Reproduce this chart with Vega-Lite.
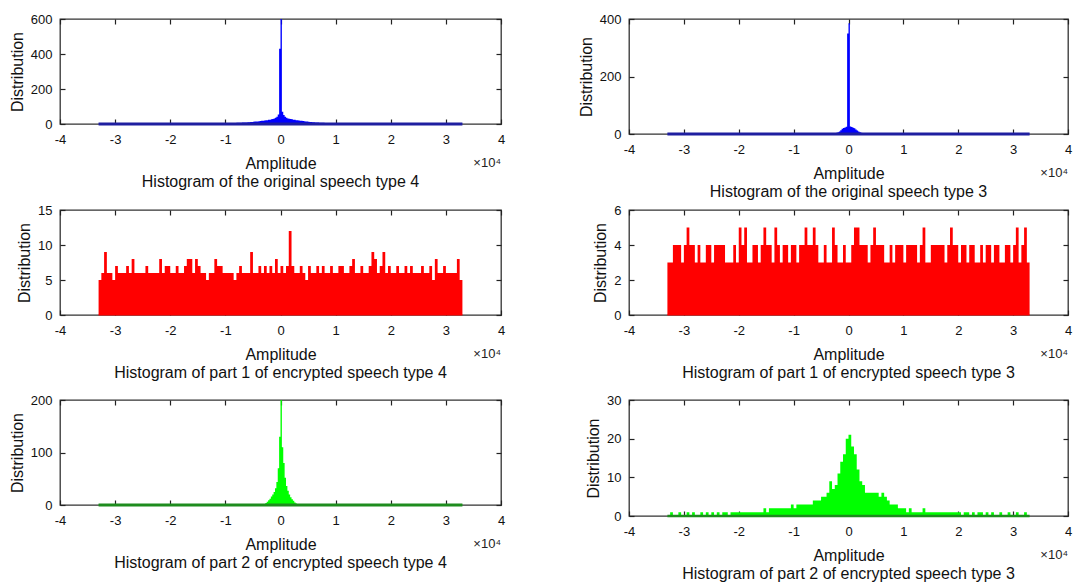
{
"$schema": "https://vega.github.io/schema/vega-lite/v6.json",
"background": "white",
"padding": {"left": 8, "top": 12, "right": 0, "bottom": 0},
"config": {
  "view": {"stroke": "#333333", "strokeWidth": 1.3},
  "font": "Liberation Sans, Arial, sans-serif",
  "axis": {"domain": false, "grid": false, "ticks": true, "tickColor": "#222222", "tickSize": -5, "tickWidth": 1.2,
    "labelFont": "Liberation Sans, Arial, sans-serif", "labelFontSize": 13, "labelColor": "#111111", "labelFlush": false, "labelOverlap": false,
    "titleFont": "Liberation Sans, Arial, sans-serif", "titleFontSize": 16, "titleFontWeight": "normal", "titleColor": "#111111"},
  "axisX": {"labelPadding": 14, "titlePadding": 9},
  "axisY": {"labelPadding": 13, "titlePadding": 5},
  "title": {"orient": "bottom", "anchor": "middle", "frame": "group", "font": "Liberation Sans, Arial, sans-serif", "fontSize": 16, "fontWeight": "normal", "color": "#111111", "offset": 3}
},
"datasets": {
  "base": [{"a": -33000, "b": 33000, "z": 0}],
  "p1": [{"x":-33000,"n":2},{"x":-32000,"n":1},{"x":-31000,"n":2},{"x":-30000,"n":1},{"x":-29000,"n":2},{"x":-28000,"n":2},{"x":-27000,"n":1},{"x":-26000,"n":2},{"x":-25000,"n":2},{"x":-24000,"n":2},{"x":-23000,"n":2},{"x":-22000,"n":2},{"x":-21000,"n":3},{"x":-20000,"n":2},{"x":-19000,"n":3},{"x":-18000,"n":3},{"x":-17000,"n":3},{"x":-16000,"n":3},{"x":-15000,"n":3},{"x":-14000,"n":4},{"x":-13000,"n":4},{"x":-12000,"n":4},{"x":-11000,"n":5},{"x":-10000,"n":5},{"x":-9000,"n":6},{"x":-8000,"n":7},
    {"x":-7000,"n":8},{"x":-6750,"n":8},{"x":-6500,"n":9},{"x":-6250,"n":9},{"x":-6000,"n":10},{"x":-5750,"n":10},{"x":-5500,"n":11},{"x":-5250,"n":12},{"x":-5000,"n":13},{"x":-4750,"n":14},{"x":-4500,"n":14},{"x":-4250,"n":15},{"x":-4000,"n":16},{"x":-3750,"n":17},{"x":-3500,"n":18},{"x":-3250,"n":19},{"x":-3000,"n":20},{"x":-2750,"n":21},{"x":-2500,"n":22},{"x":-2250,"n":24},{"x":-2000,"n":25},{"x":-1750,"n":27},{"x":-1500,"n":29},{"x":-1250,"n":32},{"x":-1000,"n":36},{"x":-750,"n":42},{"x":-500,"n":55},{"x":-250,"n":430},{"x":0,"n":600},{"x":250,"n":70},{"x":500,"n":52},{"x":750,"n":42},{"x":1000,"n":36},{"x":1250,"n":32},{"x":1500,"n":30},{"x":1750,"n":28},{"x":2000,"n":27},{"x":2250,"n":25},{"x":2500,"n":24},{"x":2750,"n":22},{"x":3000,"n":21},{"x":3250,"n":20},{"x":3500,"n":19},{"x":3750,"n":18},{"x":4000,"n":17},{"x":4250,"n":16},{"x":4500,"n":15},{"x":4750,"n":14},{"x":5000,"n":13},{"x":5250,"n":12},{"x":5500,"n":11},{"x":5750,"n":10},{"x":6000,"n":10},{"x":6250,"n":9},{"x":6500,"n":9},{"x":6750,"n":8},
    {"x":7000,"n":7},{"x":8000,"n":6},{"x":9000,"n":6},{"x":10000,"n":5},{"x":11000,"n":5},{"x":12000,"n":4},{"x":13000,"n":4},{"x":14000,"n":4},{"x":15000,"n":3},{"x":16000,"n":3},{"x":17000,"n":3},{"x":18000,"n":3},{"x":19000,"n":3},{"x":20000,"n":2},{"x":21000,"n":3},{"x":22000,"n":2},{"x":23000,"n":2},{"x":24000,"n":2},{"x":25000,"n":2},{"x":26000,"n":2},{"x":27000,"n":1},{"x":28000,"n":2},{"x":29000,"n":2},{"x":30000,"n":1},{"x":31000,"n":2},{"x":32000,"n":1},{"x":33000,"n":0}],
  "p2": [{"x":-33000,"n":1},{"x":-32000,"n":1},{"x":-31000,"n":1},{"x":-30000,"n":1},{"x":-29000,"n":1},{"x":-28000,"n":1},{"x":-27000,"n":1},{"x":-26000,"n":1},{"x":-25000,"n":1},{"x":-24000,"n":1},{"x":-23000,"n":1},{"x":-22000,"n":1},{"x":-21000,"n":1},{"x":-20000,"n":1},{"x":-19000,"n":1},{"x":-18000,"n":1},{"x":-17000,"n":1},{"x":-16000,"n":1},{"x":-15000,"n":1},{"x":-14000,"n":1},{"x":-13000,"n":1},{"x":-12000,"n":1},{"x":-11000,"n":1},{"x":-10000,"n":1},{"x":-9000,"n":1},{"x":-8000,"n":1},{"x":-7000,"n":1},{"x":-6000,"n":1},{"x":-5000,"n":1},{"x":-4000,"n":1},
    {"x":-3000,"n":2},{"x":-2750,"n":3},{"x":-2500,"n":3},{"x":-2250,"n":4},{"x":-2000,"n":6},{"x":-1750,"n":9},{"x":-1500,"n":13},{"x":-1250,"n":18},{"x":-1000,"n":21},{"x":-750,"n":23},{"x":-500,"n":25},{"x":-250,"n":350},{"x":0,"n":385},{"x":250,"n":26},{"x":500,"n":24},{"x":750,"n":22},{"x":1000,"n":20},{"x":1250,"n":16},{"x":1500,"n":12},{"x":1750,"n":9},{"x":2000,"n":6},{"x":2250,"n":4},{"x":2500,"n":3},{"x":2750,"n":2},
    {"x":3000,"n":1},{"x":4000,"n":1},{"x":5000,"n":1},{"x":6000,"n":1},{"x":7000,"n":1},{"x":8000,"n":1},{"x":9000,"n":1},{"x":10000,"n":1},{"x":11000,"n":1},{"x":12000,"n":1},{"x":13000,"n":1},{"x":14000,"n":1},{"x":15000,"n":1},{"x":16000,"n":1},{"x":17000,"n":1},{"x":18000,"n":1},{"x":19000,"n":1},{"x":20000,"n":1},{"x":21000,"n":1},{"x":22000,"n":1},{"x":23000,"n":1},{"x":24000,"n":1},{"x":25000,"n":1},{"x":26000,"n":1},{"x":27000,"n":1},{"x":28000,"n":1},{"x":29000,"n":1},{"x":30000,"n":1},{"x":31000,"n":1},{"x":32000,"n":1},{"x":33000,"n":0}],
  "p3": [{"x":-33000,"n":5},{"x":-32500,"n":6},{"x":-32000,"n":9},{"x":-31500,"n":6},{"x":-31000,"n":6},{"x":-30500,"n":5},{"x":-30000,"n":7},{"x":-29500,"n":6},{"x":-29000,"n":6},{"x":-28500,"n":6},
    {"x":-28000,"n":7},{"x":-27500,"n":6},{"x":-27000,"n":8},{"x":-26500,"n":6},{"x":-26000,"n":6},{"x":-25500,"n":6},{"x":-25000,"n":6},{"x":-24500,"n":7},{"x":-24000,"n":6},{"x":-23500,"n":6},
    {"x":-23000,"n":6},{"x":-22500,"n":6},{"x":-22000,"n":8},{"x":-21500,"n":6},{"x":-21000,"n":7},{"x":-20500,"n":7},{"x":-20000,"n":6},{"x":-19500,"n":6},{"x":-19000,"n":7},{"x":-18500,"n":6},
    {"x":-18000,"n":6},{"x":-17500,"n":7},{"x":-17000,"n":8},{"x":-16500,"n":8},{"x":-16000,"n":6},{"x":-15500,"n":8},{"x":-15000,"n":7},{"x":-14500,"n":6},{"x":-14000,"n":6},{"x":-13500,"n":5},
    {"x":-13000,"n":6},{"x":-12500,"n":6},{"x":-12000,"n":8},{"x":-11500,"n":7},{"x":-11000,"n":7},{"x":-10500,"n":6},{"x":-10000,"n":6},{"x":-9500,"n":6},{"x":-9000,"n":6},{"x":-8500,"n":5},
    {"x":-8000,"n":6},{"x":-7500,"n":7},{"x":-7000,"n":6},{"x":-6500,"n":6},{"x":-6000,"n":6},{"x":-5500,"n":9},{"x":-5000,"n":6},{"x":-4500,"n":6},{"x":-4000,"n":7},{"x":-3500,"n":6},
    {"x":-3000,"n":7},{"x":-2500,"n":6},{"x":-2000,"n":7},{"x":-1500,"n":6},{"x":-1000,"n":8},{"x":-500,"n":6},{"x":0,"n":7},{"x":500,"n":6},{"x":1000,"n":7},{"x":1500,"n":12},
    {"x":2000,"n":7},{"x":2500,"n":6},{"x":3000,"n":6},{"x":3500,"n":7},{"x":4000,"n":6},{"x":4500,"n":5},{"x":5000,"n":7},{"x":5500,"n":6},{"x":6000,"n":6},{"x":6500,"n":7},
    {"x":7000,"n":6},{"x":7500,"n":7},{"x":8000,"n":6},{"x":8500,"n":6},{"x":9000,"n":7},{"x":9500,"n":6},{"x":10000,"n":6},{"x":10500,"n":7},{"x":11000,"n":7},{"x":11500,"n":6},
    {"x":12000,"n":6},{"x":12500,"n":7},{"x":13000,"n":8},{"x":13500,"n":6},{"x":14000,"n":6},{"x":14500,"n":7},{"x":15000,"n":6},{"x":15500,"n":6},{"x":16000,"n":7},{"x":16500,"n":9},
    {"x":17000,"n":8},{"x":17500,"n":6},{"x":18000,"n":7},{"x":18500,"n":9},{"x":19000,"n":6},{"x":19500,"n":7},{"x":20000,"n":6},{"x":20500,"n":6},{"x":21000,"n":7},{"x":21500,"n":6},
    {"x":22000,"n":6},{"x":22500,"n":7},{"x":23000,"n":6},{"x":23500,"n":7},{"x":24000,"n":6},{"x":24500,"n":6},{"x":25000,"n":6},{"x":25500,"n":7},{"x":26000,"n":6},{"x":26500,"n":6},
    {"x":27000,"n":7},{"x":27500,"n":5},{"x":28000,"n":8},{"x":28500,"n":6},{"x":29000,"n":6},{"x":29500,"n":7},{"x":30000,"n":6},{"x":30500,"n":6},{"x":31000,"n":6},{"x":31500,"n":6},
    {"x":32000,"n":8},{"x":32500,"n":5},{"x":33000,"n":0}],
  "p4": [{"x":-33000,"n":3},{"x":-32500,"n":3},{"x":-32000,"n":4},{"x":-31500,"n":4},{"x":-31000,"n":4},{"x":-30500,"n":3},{"x":-30000,"n":4},{"x":-29500,"n":5},{"x":-29000,"n":4},{"x":-28500,"n":4},
    {"x":-28000,"n":3},{"x":-27500,"n":4},{"x":-27000,"n":3},{"x":-26500,"n":3},{"x":-26000,"n":4},{"x":-25500,"n":4},{"x":-25000,"n":3},{"x":-24500,"n":4},{"x":-24000,"n":4},{"x":-23500,"n":4},
    {"x":-23000,"n":4},{"x":-22500,"n":3},{"x":-22000,"n":3},{"x":-21500,"n":3},{"x":-21000,"n":4},{"x":-20500,"n":3},{"x":-20000,"n":5},{"x":-19500,"n":4},{"x":-19000,"n":5},{"x":-18500,"n":3},
    {"x":-18000,"n":3},{"x":-17500,"n":4},{"x":-17000,"n":4},{"x":-16500,"n":3},{"x":-16000,"n":4},{"x":-15500,"n":5},{"x":-15000,"n":4},{"x":-14500,"n":4},{"x":-14000,"n":3},{"x":-13500,"n":5},
    {"x":-13000,"n":4},{"x":-12500,"n":3},{"x":-12000,"n":4},{"x":-11500,"n":4},{"x":-11000,"n":3},{"x":-10500,"n":4},{"x":-10000,"n":4},{"x":-9500,"n":3},{"x":-9000,"n":4},{"x":-8500,"n":4},
    {"x":-8000,"n":5},{"x":-7500,"n":4},{"x":-7000,"n":4},{"x":-6500,"n":5},{"x":-6000,"n":4},{"x":-5500,"n":3},{"x":-5000,"n":3},{"x":-4500,"n":4},{"x":-4000,"n":3},{"x":-3500,"n":3},
    {"x":-3000,"n":5},{"x":-2500,"n":4},{"x":-2000,"n":3},{"x":-1500,"n":3},{"x":-1000,"n":4},{"x":-500,"n":3},{"x":0,"n":3},{"x":500,"n":4},{"x":1000,"n":5},{"x":1500,"n":5},
    {"x":2000,"n":4},{"x":2500,"n":4},{"x":3000,"n":4},{"x":3500,"n":3},{"x":4000,"n":4},{"x":4500,"n":5},{"x":5000,"n":4},{"x":5500,"n":4},{"x":6000,"n":4},{"x":6500,"n":3},
    {"x":7000,"n":3},{"x":7500,"n":4},{"x":8000,"n":3},{"x":8500,"n":4},{"x":9000,"n":4},{"x":9500,"n":4},{"x":10000,"n":3},{"x":10500,"n":4},{"x":11000,"n":4},{"x":11500,"n":4},
    {"x":12000,"n":4},{"x":12500,"n":3},{"x":13000,"n":4},{"x":13500,"n":5},{"x":14000,"n":3},{"x":14500,"n":3},{"x":15000,"n":4},{"x":15500,"n":4},{"x":16000,"n":4},{"x":16500,"n":4},
    {"x":17000,"n":4},{"x":17500,"n":3},{"x":18000,"n":4},{"x":18500,"n":5},{"x":19000,"n":4},{"x":19500,"n":4},{"x":20000,"n":3},{"x":20500,"n":4},{"x":21000,"n":4},{"x":21500,"n":3},
    {"x":22000,"n":4},{"x":22500,"n":4},{"x":23000,"n":3},{"x":23500,"n":3},{"x":24000,"n":4},{"x":24500,"n":3},{"x":25000,"n":4},{"x":25500,"n":4},{"x":26000,"n":3},{"x":26500,"n":4},
    {"x":27000,"n":4},{"x":27500,"n":3},{"x":28000,"n":3},{"x":28500,"n":4},{"x":29000,"n":4},{"x":29500,"n":3},{"x":30000,"n":4},{"x":30500,"n":5},{"x":31000,"n":3},{"x":31500,"n":4},
    {"x":32000,"n":5},{"x":32500,"n":3},{"x":33000,"n":0}],
  "p5": [{"x":-33000,"n":1},{"x":-32000,"n":1},{"x":-31000,"n":1},{"x":-30000,"n":1},{"x":-29000,"n":1},{"x":-28000,"n":1},{"x":-27000,"n":1},{"x":-26000,"n":1},{"x":-25000,"n":1},{"x":-24000,"n":1},{"x":-23000,"n":1},{"x":-22000,"n":1},{"x":-21000,"n":1},{"x":-20000,"n":1},{"x":-19000,"n":1},{"x":-18000,"n":1},{"x":-17000,"n":1},{"x":-16000,"n":1},{"x":-15000,"n":1},{"x":-14000,"n":1},{"x":-13000,"n":1},{"x":-12000,"n":1},{"x":-11000,"n":1},{"x":-10000,"n":1},{"x":-9000,"n":1},{"x":-8000,"n":1},{"x":-7000,"n":1},{"x":-6000,"n":1},{"x":-5000,"n":1},
    {"x":-4000,"n":1},{"x":-3750,"n":1},{"x":-3500,"n":1},{"x":-3250,"n":1},{"x":-3000,"n":2},{"x":-2750,"n":4},{"x":-2500,"n":6},{"x":-2250,"n":9},{"x":-2000,"n":12},{"x":-1750,"n":16},{"x":-1500,"n":20},{"x":-1250,"n":25},{"x":-1000,"n":32},{"x":-750,"n":44},{"x":-500,"n":70},{"x":-250,"n":130},{"x":0,"n":200},{"x":250,"n":110},{"x":500,"n":80},{"x":750,"n":52},{"x":1000,"n":36},{"x":1250,"n":27},{"x":1500,"n":20},{"x":1750,"n":15},{"x":2000,"n":11},{"x":2250,"n":8},{"x":2500,"n":5},{"x":2750,"n":3},{"x":3000,"n":2},{"x":3250,"n":1},{"x":3500,"n":1},{"x":3750,"n":1},
    {"x":4000,"n":1},{"x":5000,"n":1},{"x":6000,"n":1},{"x":7000,"n":1},{"x":8000,"n":1},{"x":9000,"n":1},{"x":10000,"n":1},{"x":11000,"n":1},{"x":12000,"n":1},{"x":13000,"n":1},{"x":14000,"n":1},{"x":15000,"n":1},{"x":16000,"n":1},{"x":17000,"n":1},{"x":18000,"n":1},{"x":19000,"n":1},{"x":20000,"n":1},{"x":21000,"n":1},{"x":22000,"n":1},{"x":23000,"n":1},{"x":24000,"n":1},{"x":25000,"n":1},{"x":26000,"n":1},{"x":27000,"n":1},{"x":28000,"n":1},{"x":29000,"n":1},{"x":30000,"n":1},{"x":31000,"n":1},{"x":32000,"n":1},{"x":33000,"n":0}],
  "p6": [{"x":-33000,"n":0},{"x":-32500,"n":1},{"x":-32000,"n":0},{"x":-31500,"n":0},{"x":-31000,"n":1},{"x":-30500,"n":0},{"x":-30000,"n":0},{"x":-29500,"n":1},{"x":-29000,"n":0},{"x":-28500,"n":1},
    {"x":-28000,"n":0},{"x":-27500,"n":0},{"x":-27000,"n":1},{"x":-26500,"n":0},{"x":-26000,"n":1},{"x":-25500,"n":0},
    {"x":-25000,"n":1},{"x":-24500,"n":0},{"x":-24000,"n":1},{"x":-23500,"n":0},{"x":-23000,"n":1},{"x":-22500,"n":1},{"x":-22000,"n":0},{"x":-21500,"n":1},{"x":-21000,"n":1},{"x":-20500,"n":1},
    {"x":-20000,"n":1},{"x":-19500,"n":1},{"x":-19000,"n":1},{"x":-18500,"n":1},{"x":-18000,"n":1},{"x":-17500,"n":1},{"x":-17000,"n":1},{"x":-16500,"n":1},{"x":-16000,"n":1},{"x":-15500,"n":2},
    {"x":-15000,"n":1},{"x":-14500,"n":2},{"x":-14000,"n":2},{"x":-13500,"n":2},{"x":-13000,"n":2},{"x":-12500,"n":2},{"x":-12000,"n":2},{"x":-11500,"n":2},{"x":-11000,"n":2},{"x":-10500,"n":3},
    {"x":-10000,"n":2},{"x":-9500,"n":3},{"x":-9000,"n":3},{"x":-8500,"n":3},{"x":-8000,"n":3},{"x":-7500,"n":3},{"x":-7000,"n":3},{"x":-6500,"n":4},{"x":-6000,"n":4},{"x":-5500,"n":4},
    {"x":-5000,"n":5},{"x":-4500,"n":5},{"x":-4000,"n":6},{"x":-3500,"n":9},{"x":-3000,"n":7},{"x":-2500,"n":8},{"x":-2000,"n":11},{"x":-1500,"n":14},{"x":-1000,"n":16},{"x":-500,"n":20},
    {"x":0,"n":21},{"x":500,"n":18},{"x":1000,"n":16},{"x":1500,"n":12},{"x":2000,"n":9},{"x":2500,"n":8},{"x":3000,"n":6},{"x":3500,"n":6},{"x":4000,"n":6},{"x":4500,"n":6},
    {"x":5000,"n":6},{"x":5500,"n":5},{"x":6000,"n":6},{"x":6500,"n":5},{"x":7000,"n":4},{"x":7500,"n":3},{"x":8000,"n":3},{"x":8500,"n":3},{"x":9000,"n":2},{"x":9500,"n":2},
    {"x":10000,"n":2},{"x":10500,"n":1},{"x":11000,"n":2},{"x":11500,"n":1},{"x":12000,"n":1},{"x":12500,"n":1},{"x":13000,"n":1},{"x":13500,"n":2},{"x":14000,"n":1},{"x":14500,"n":1},
    {"x":15000,"n":1},{"x":15500,"n":1},{"x":16000,"n":1},{"x":16500,"n":1},{"x":17000,"n":1},{"x":17500,"n":1},{"x":18000,"n":1},{"x":18500,"n":1},{"x":19000,"n":1},{"x":19500,"n":1},
    {"x":20000,"n":1},{"x":20500,"n":0},{"x":21000,"n":1},{"x":21500,"n":1},{"x":22000,"n":0},{"x":22500,"n":1},{"x":23000,"n":0},{"x":23500,"n":1},{"x":24000,"n":1},{"x":24500,"n":0},
    {"x":25000,"n":1},{"x":25500,"n":0},{"x":26000,"n":1},{"x":26500,"n":0},{"x":27000,"n":0},{"x":27500,"n":1},{"x":28000,"n":0},{"x":28500,"n":0},{"x":29000,"n":1},{"x":29500,"n":0},
    {"x":30000,"n":0},{"x":30500,"n":1},{"x":31000,"n":0},{"x":31500,"n":0},{"x":32000,"n":1},{"x":32500,"n":0},{"x":33000,"n":0}]
},
"columns": 2,
"spacing": {"row": 2, "column": 71},
"concat": [
  {"width": 441, "height": 105, "title": {"text": "Histogram of the original speech type 4"},
   "layer": [
    {"data": {"name": "p1"}, "mark": {"type": "area", "interpolate": "step-after", "color": "#0000ff"},
     "encoding": {"x": {"field": "x", "type": "quantitative", "scale": {"domain": [-40000, 40000], "nice": false}, "axis": {"orient": "bottom", "values": [-40000,-30000,-20000,-10000,0,10000,20000,30000,40000], "labelExpr": "datum.value/10000", "title": "Amplitude"}},
                  "y": {"field": "n", "type": "quantitative", "scale": {"domain": [0, 600], "nice": false}, "axis": {"orient": "left", "values": [0,200,400,600], "title": "Distribution"}}}},
    {"data": {"name": "base"}, "mark": {"type": "rule", "color": "#1f1fa0", "strokeWidth": 3},
     "encoding": {"x": {"field": "a", "type": "quantitative", "scale": {"domain": [-40000, 40000], "nice": false}, "axis": {"orient": "top", "values": [-40000,-30000,-20000,-10000,0,10000,20000,30000,40000], "labels": false, "title": null}}, "x2": {"field": "b"},
                  "y": {"field": "z", "type": "quantitative", "scale": {"domain": [0, 600], "nice": false}, "axis": {"orient": "right", "values": [0,200,400,600], "labels": false, "title": null}}}},
    {"data": {"name": "base"}, "mark": {"type": "text", "text": "×10⁴", "align": "right", "baseline": "middle", "dy": 39, "fontSize": 13, "color": "#222222"},
     "encoding": {"x": {"datum": 40000, "type": "quantitative", "axis": null}, "y": {"datum": 0, "type": "quantitative", "axis": null}}}
   ],
   "resolve": {"axis": {"x": "independent", "y": "independent"}}},
  {"width": 439, "height": 115, "title": {"text": "Histogram of the original speech type 3"},
   "layer": [
    {"data": {"name": "p2"}, "mark": {"type": "area", "interpolate": "step-after", "color": "#0000ff"},
     "encoding": {"x": {"field": "x", "type": "quantitative", "scale": {"domain": [-40000, 40000], "nice": false}, "axis": {"orient": "bottom", "values": [-40000,-30000,-20000,-10000,0,10000,20000,30000,40000], "labelExpr": "datum.value/10000", "title": "Amplitude"}},
                  "y": {"field": "n", "type": "quantitative", "scale": {"domain": [0, 400], "nice": false}, "axis": {"orient": "left", "values": [0,200,400], "title": "Distribution"}}}},
    {"data": {"name": "base"}, "mark": {"type": "rule", "color": "#1f1fa0", "strokeWidth": 3},
     "encoding": {"x": {"field": "a", "type": "quantitative", "scale": {"domain": [-40000, 40000], "nice": false}, "axis": {"orient": "top", "values": [-40000,-30000,-20000,-10000,0,10000,20000,30000,40000], "labels": false, "title": null}}, "x2": {"field": "b"},
                  "y": {"field": "z", "type": "quantitative", "scale": {"domain": [0, 400], "nice": false}, "axis": {"orient": "right", "values": [0,200,400], "labels": false, "title": null}}}},
    {"data": {"name": "base"}, "mark": {"type": "text", "text": "×10⁴", "align": "right", "baseline": "middle", "dy": 39, "fontSize": 13, "color": "#222222"},
     "encoding": {"x": {"datum": 40000, "type": "quantitative", "axis": null}, "y": {"datum": 0, "type": "quantitative", "axis": null}}}
   ],
   "resolve": {"axis": {"x": "independent", "y": "independent"}}},
  {"width": 441, "height": 105, "title": {"text": "Histogram of part 1 of encrypted speech type 4", "subtitle": " ", "subtitleFontSize": 7, "subtitlePadding": 2},
   "layer": [
    {"data": {"name": "p3"}, "mark": {"type": "area", "interpolate": "step-after", "color": "#ff0000"},
     "encoding": {"x": {"field": "x", "type": "quantitative", "scale": {"domain": [-40000, 40000], "nice": false}, "axis": {"orient": "bottom", "values": [-40000,-30000,-20000,-10000,0,10000,20000,30000,40000], "labelExpr": "datum.value/10000", "title": "Amplitude"}},
                  "y": {"field": "n", "type": "quantitative", "scale": {"domain": [0, 15], "nice": false}, "axis": {"orient": "left", "values": [0,5,10,15], "title": "Distribution"}}}},
    {"data": {"name": "base"}, "mark": {"type": "rule", "color": "#ff0000", "strokeWidth": 1},
     "encoding": {"x": {"field": "a", "type": "quantitative", "scale": {"domain": [-40000, 40000], "nice": false}, "axis": {"orient": "top", "values": [-40000,-30000,-20000,-10000,0,10000,20000,30000,40000], "labels": false, "title": null}}, "x2": {"field": "b"},
                  "y": {"field": "z", "type": "quantitative", "scale": {"domain": [0, 15], "nice": false}, "axis": {"orient": "right", "values": [0,5,10,15], "labels": false, "title": null}}}},
    {"data": {"name": "base"}, "mark": {"type": "text", "text": "×10⁴", "align": "right", "baseline": "middle", "dy": 39, "fontSize": 13, "color": "#222222"},
     "encoding": {"x": {"datum": 40000, "type": "quantitative", "axis": null}, "y": {"datum": 0, "type": "quantitative", "axis": null}}}
   ],
   "resolve": {"axis": {"x": "independent", "y": "independent"}}},
  {"width": 439, "height": 105, "title": {"text": "Histogram of part 1 of encrypted speech type 3", "subtitle": " ", "subtitleFontSize": 7, "subtitlePadding": 2},
   "layer": [
    {"data": {"name": "p4"}, "mark": {"type": "area", "interpolate": "step-after", "color": "#ff0000"},
     "encoding": {"x": {"field": "x", "type": "quantitative", "scale": {"domain": [-40000, 40000], "nice": false}, "axis": {"orient": "bottom", "values": [-40000,-30000,-20000,-10000,0,10000,20000,30000,40000], "labelExpr": "datum.value/10000", "title": "Amplitude"}},
                  "y": {"field": "n", "type": "quantitative", "scale": {"domain": [0, 6], "nice": false}, "axis": {"orient": "left", "values": [0,2,4,6], "title": "Distribution"}}}},
    {"data": {"name": "base"}, "mark": {"type": "rule", "color": "#ff0000", "strokeWidth": 1},
     "encoding": {"x": {"field": "a", "type": "quantitative", "scale": {"domain": [-40000, 40000], "nice": false}, "axis": {"orient": "top", "values": [-40000,-30000,-20000,-10000,0,10000,20000,30000,40000], "labels": false, "title": null}}, "x2": {"field": "b"},
                  "y": {"field": "z", "type": "quantitative", "scale": {"domain": [0, 6], "nice": false}, "axis": {"orient": "right", "values": [0,2,4,6], "labels": false, "title": null}}}},
    {"data": {"name": "base"}, "mark": {"type": "text", "text": "×10⁴", "align": "right", "baseline": "middle", "dy": 39, "fontSize": 13, "color": "#222222"},
     "encoding": {"x": {"datum": 40000, "type": "quantitative", "axis": null}, "y": {"datum": 0, "type": "quantitative", "axis": null}}}
   ],
   "resolve": {"axis": {"x": "independent", "y": "independent"}}},
  {"width": 441, "height": 105, "title": {"text": "Histogram of part 2 of encrypted speech type 4"},
   "layer": [
    {"data": {"name": "p5"}, "mark": {"type": "area", "interpolate": "step-after", "color": "#00ff00"},
     "encoding": {"x": {"field": "x", "type": "quantitative", "scale": {"domain": [-40000, 40000], "nice": false}, "axis": {"orient": "bottom", "values": [-40000,-30000,-20000,-10000,0,10000,20000,30000,40000], "labelExpr": "datum.value/10000", "title": "Amplitude"}},
                  "y": {"field": "n", "type": "quantitative", "scale": {"domain": [0, 200], "nice": false}, "axis": {"orient": "left", "values": [0,100,200], "title": "Distribution"}}}},
    {"data": {"name": "base"}, "mark": {"type": "rule", "color": "#1e8c1e", "strokeWidth": 3},
     "encoding": {"x": {"field": "a", "type": "quantitative", "scale": {"domain": [-40000, 40000], "nice": false}, "axis": {"orient": "top", "values": [-40000,-30000,-20000,-10000,0,10000,20000,30000,40000], "labels": false, "title": null}}, "x2": {"field": "b"},
                  "y": {"field": "z", "type": "quantitative", "scale": {"domain": [0, 200], "nice": false}, "axis": {"orient": "right", "values": [0,100,200], "labels": false, "title": null}}}},
    {"data": {"name": "base"}, "mark": {"type": "text", "text": "×10⁴", "align": "right", "baseline": "middle", "dy": 39, "fontSize": 13, "color": "#222222"},
     "encoding": {"x": {"datum": 40000, "type": "quantitative", "axis": null}, "y": {"datum": 0, "type": "quantitative", "axis": null}}}
   ],
   "resolve": {"axis": {"x": "independent", "y": "independent"}}},
  {"width": 439, "height": 116, "title": {"text": "Histogram of part 2 of encrypted speech type 3"},
   "layer": [
    {"data": {"name": "p6"}, "mark": {"type": "area", "interpolate": "step-after", "color": "#00ff00"},
     "encoding": {"x": {"field": "x", "type": "quantitative", "scale": {"domain": [-40000, 40000], "nice": false}, "axis": {"orient": "bottom", "values": [-40000,-30000,-20000,-10000,0,10000,20000,30000,40000], "labelExpr": "datum.value/10000", "title": "Amplitude"}},
                  "y": {"field": "n", "type": "quantitative", "scale": {"domain": [0, 30], "nice": false}, "axis": {"orient": "left", "values": [0,10,20,30], "title": "Distribution"}}}},
    {"data": {"name": "base"}, "mark": {"type": "rule", "color": "#1e8c1e", "strokeWidth": 2.5},
     "encoding": {"x": {"field": "a", "type": "quantitative", "scale": {"domain": [-40000, 40000], "nice": false}, "axis": {"orient": "top", "values": [-40000,-30000,-20000,-10000,0,10000,20000,30000,40000], "labels": false, "title": null}}, "x2": {"field": "b"},
                  "y": {"field": "z", "type": "quantitative", "scale": {"domain": [0, 30], "nice": false}, "axis": {"orient": "right", "values": [0,10,20,30], "labels": false, "title": null}}}},
    {"data": {"name": "base"}, "mark": {"type": "text", "text": "×10⁴", "align": "right", "baseline": "middle", "dy": 39, "fontSize": 13, "color": "#222222"},
     "encoding": {"x": {"datum": 40000, "type": "quantitative", "axis": null}, "y": {"datum": 0, "type": "quantitative", "axis": null}}}
   ],
   "resolve": {"axis": {"x": "independent", "y": "independent"}}}
]
}
